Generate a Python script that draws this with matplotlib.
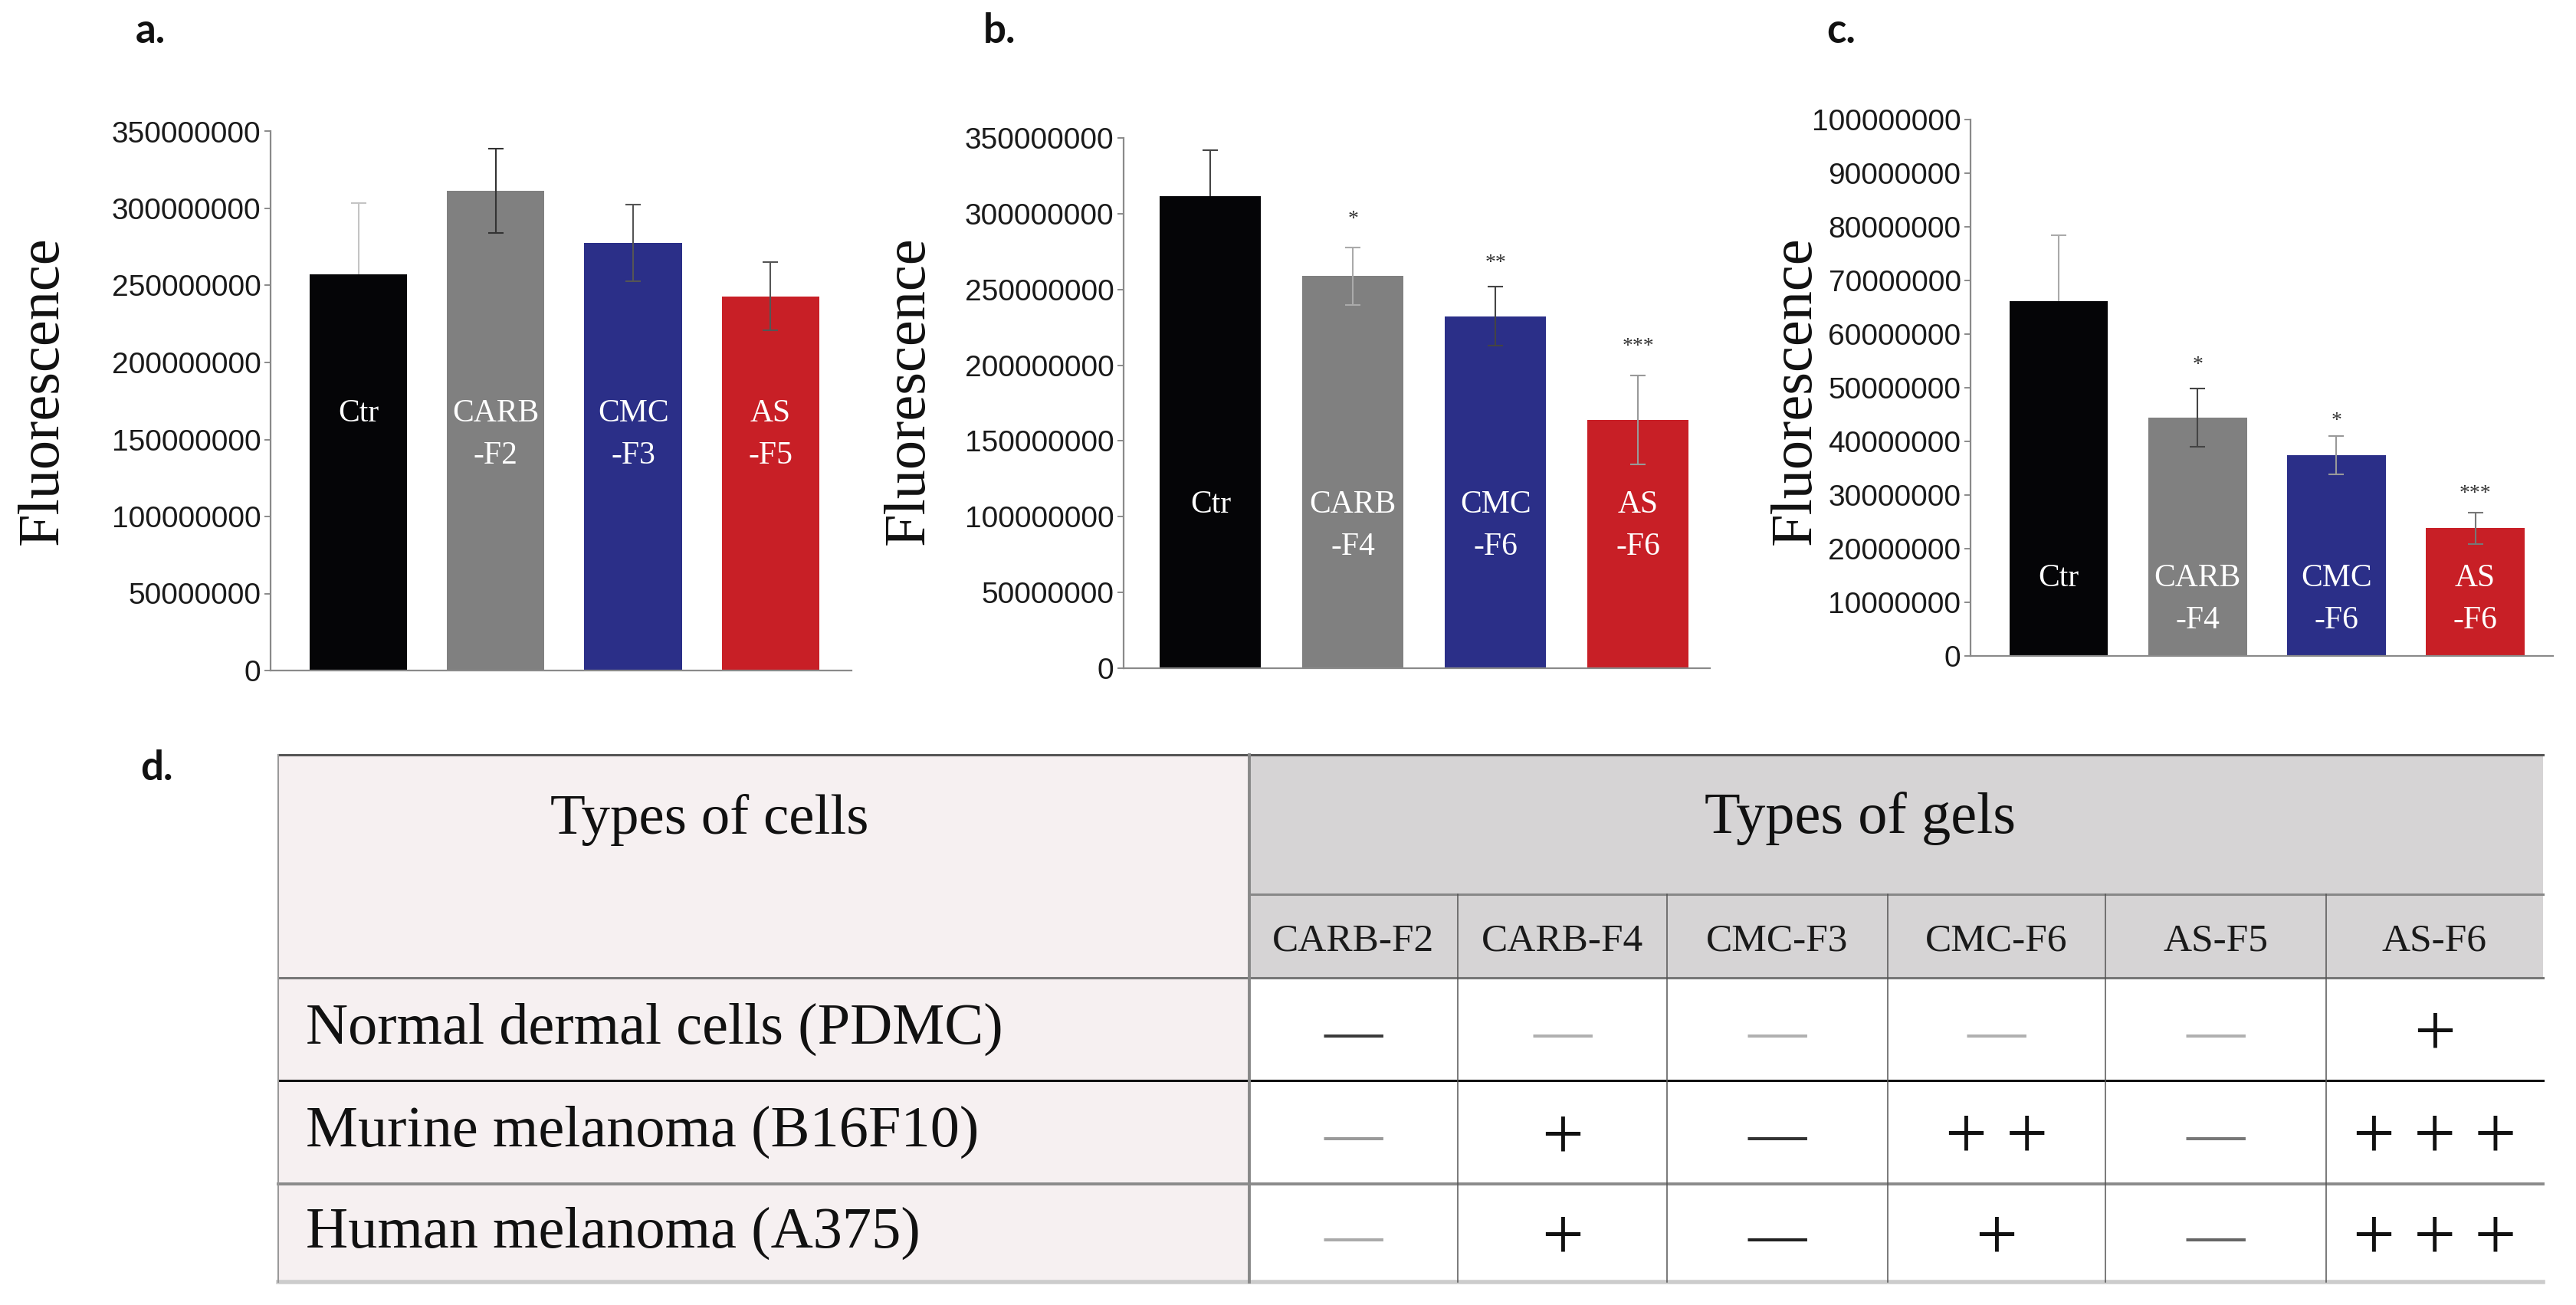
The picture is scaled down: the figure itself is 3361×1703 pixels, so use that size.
import numpy as np
import matplotlib
matplotlib.use("Agg")
import matplotlib.pyplot as plt
from matplotlib.patches import Rectangle
from matplotlib.ticker import FuncFormatter, MultipleLocator

W, H = 3362, 1703
SERIF = "Liberation Serif"
SANS = "Liberation Sans"

bar_colors = ["#050507", "#808080", "#2b2f88", "#c81f26"]

# panel a
labels_a = ["Ctr", "CARB\n-F2", "CMC\n-F3", "AS\n-F5"]
values_a = [257.4e6, 311.5e6, 277.7e6, 243.0e6]
errors_a = [46.0e6, 27.5e6, 25.0e6, 22.0e6]
stars_a = ["", "", "", ""]
star_y_a = [0, 0, 0, 0]
errcol_a = ["#c4c4c4", "#333333", "#555555", "#555555"]

# panel b
labels_b = ["Ctr", "CARB\n-F4", "CMC\n-F6", "AS\n-F6"]
values_b = [311.8e6, 258.8e6, 232.4e6, 163.8e6]
errors_b = [30.0e6, 19.0e6, 19.7e6, 29.4e6]
stars_b = ["", "*", "**", "***"]
star_y_b = [0, 297.9e6, 269.0e6, 213.8e6]
errcol_b = ["#444444", "#aaaaaa", "#444444", "#999999"]

# panel c
labels_c = ["Ctr", "CARB\n-F4", "CMC\n-F6", "AS\n-F6"]
values_c = [66.1e6, 44.4e6, 37.4e6, 23.8e6]
errors_c = [12.3e6, 5.4e6, 3.6e6, 2.9e6]
stars_c = ["", "*", "*", "***"]
star_y_c = [0, 54.6e6, 44.2e6, 30.6e6]
errcol_c = ["#aaaaaa", "#444444", "#999999", "#777777"]

# panel d table
cell_types = ["Normal dermal cells (PDMC)", "Murine melanoma (B16F10)",
              "Human melanoma (A375)"]
gel_types = ["CARB-F2", "CARB-F4", "CMC-F3", "CMC-F6", "AS-F5", "AS-F6"]
responses = [
    ["—", "—", "—", "—", "—", "+"],
    ["—", "+", "—", "+ +", "—", "+ + +"],
    ["—", "+", "—", "+", "—", "+ + +"],
]
symbol_colors = [
    ["#3a3a3a", "#b0b0b0", "#b0b0b0", "#b0b0b0", "#b0b0b0", "#111111"],
    ["#9a9a9a", "#111111", "#333333", "#111111", "#777777", "#111111"],
    ["#aaaaaa", "#111111", "#222222", "#111111", "#666666", "#111111"],
]


def px_axes(fig, left, top, right, bottom):
    return fig.add_axes([left / W, 1 - bottom / H, (right - left) / W,
                         (bottom - top) / H])


def bar_panel(fig, box, xlim, ymax, ystep, labels, values, errors, errcols,
              stars, star_y, label_y):
    ax = px_axes(fig, *box)
    ax.set_facecolor("none")
    x = np.arange(len(values))
    ax.bar(x, values, width=0.71, color=bar_colors, zorder=2)
    for i in range(len(values)):
        # control error bar sits behind its (black) bar
        ax.errorbar(x[i], values[i], yerr=errors[i], fmt="none",
                    ecolor=errcols[i], elinewidth=1.5, capsize=7,
                    capthick=1.5, zorder=1 if i == 0 else 3)
        if stars[i]:
            ax.text(x[i], star_y[i], stars[i], ha="center",
                    va="center_baseline", fontsize=20, family=SERIF,
                    color="#333333")
        for k, line in enumerate(labels[i].split("\n")):
            ax.annotate(line, (x[i], label_y), xytext=(0, -k * 39.6),
                        textcoords="offset points", ha="center",
                        va="center_baseline", color="white", fontsize=30,
                        family=SERIF, zorder=4)
    ax.set_xlim(*xlim)
    ax.set_ylim(0, ymax)
    ax.yaxis.set_major_locator(MultipleLocator(ystep))
    ax.yaxis.set_major_formatter(FuncFormatter(lambda v, p: "%d" % round(v)))
    ax.set_xticks([])
    for s in ["top", "right"]:
        ax.spines[s].set_visible(False)
    for s in ["left", "bottom"]:
        ax.spines[s].set_color("#8a8a8a")
        ax.spines[s].set_linewidth(1.6)
    ax.tick_params(axis="y", length=6, width=1.4, color="#8a8a8a", pad=3,
                   labelsize=28, labelcolor="#1a1a1a")
    for t in ax.get_yticklabels():
        t.set_family(SANS)
    return ax


fig = plt.figure(figsize=(W / 100, H / 100), dpi=100)

bar_panel(fig, (353, 171.5, 1111, 875), (-0.64, 3.59), 350e6, 50e6,
          labels_a, values_a, errors_a, errcol_a, stars_a, star_y_a, 169e6)
bar_panel(fig, (1466, 180, 2231, 872), (-0.61, 3.505), 350e6, 50e6,
          labels_b, values_b, errors_b, errcol_b, stars_b, star_y_b, 110.3e6)
bar_panel(fig, (2571, 156, 3331, 856), (-0.635, 3.56), 100e6, 10e6,
          labels_c, values_c, errors_c, errcol_c, stars_c, star_y_c, 15.1e6)

# overlay axes in pixel coordinates for labels and the table
tab = fig.add_axes([0, 0, 1, 1], zorder=-1)
tab.set_xlim(0, W)
tab.set_ylim(H, 0)
tab.axis("off")

for xp in [56, 1186, 2343]:
    tab.text(xp, 510, "Fluorescence", rotation=90, ha="center", va="center",
             fontsize=55, family=SERIF, color="#111111")

for lab, xp, yp in [("a.", 196, 40), ("b.", 1304, 40), ("c.", 2402, 40),
                    ("d.", 204, 1003)]:
    tab.text(xp, yp, lab, ha="center", va="center", fontsize=38,
             family="Lato", fontweight="bold", color="#111111")

# table layout
t_left, t_right = 363, 3318
gel_edges = [1630, 1902, 2175, 2463, 2747, 3035, 3318]
row_edges = [985, 1167, 1276, 1410, 1545, 1673]

tab.add_patch(Rectangle((t_left, row_edges[0]), gel_edges[0] - t_left,
                        row_edges[-1] - row_edges[0], color="#f6f0f1", lw=0))
tab.add_patch(Rectangle((gel_edges[0], row_edges[0]), t_right - gel_edges[0],
                        row_edges[2] - row_edges[0], color="#d6d4d5", lw=0))

tab.plot([t_left, t_right], [row_edges[0]] * 2, color="#555555", lw=2.2)
tab.plot([gel_edges[0], t_right], [row_edges[1]] * 2, color="#888888", lw=2.2)
tab.plot([t_left, t_right], [row_edges[2]] * 2, color="#777777", lw=2.2)
tab.plot([t_left, t_right], [row_edges[3]] * 2, color="#111111", lw=2.2)
tab.plot([t_left, t_right], [row_edges[4]] * 2, color="#8a8a8a", lw=2.8)
tab.plot([t_left, t_right], [row_edges[5]] * 2, color="#cccccc", lw=4)
tab.plot([t_left] * 2, [row_edges[0], row_edges[-1]], color="#9a9a9a", lw=1.5)
tab.plot([gel_edges[0]] * 2, [row_edges[0], row_edges[-1]], color="#888888",
         lw=2.8)
for xe in gel_edges[1:-1]:
    tab.plot([xe] * 2, [row_edges[1], row_edges[-1]], color="#555555", lw=1.1)

tab.text(926, 1070, "Types of cells", ha="center", va="center", fontsize=54,
         family=SERIF, color="#111111")
tab.text(2427, 1068, "Types of gels", ha="center", va="center", fontsize=55,
         family=SERIF, color="#111111")

for j, g in enumerate(gel_types):
    xc = (gel_edges[j] + gel_edges[j + 1]) / 2
    tab.text(xc, 1228, g, ha="center", va="center", fontsize=37,
             family=SERIF, color="#1a1a1a")

for i, name in enumerate(cell_types):
    yc = (row_edges[i + 2] + row_edges[i + 3]) / 2
    tab.text(t_left + 36, yc, name, ha="left", va="center", fontsize=55,
             family=SERIF, color="#111111")
    for j, sym in enumerate(responses[i]):
        xc = (gel_edges[j] + gel_edges[j + 1]) / 2
        size = 70 if "+" in sym else 55
        tab.text(xc, yc, sym, ha="center", va="center_baseline",
                 fontsize=size, family=SERIF, color=symbol_colors[i][j])

fig.savefig("out.png", dpi=100)
